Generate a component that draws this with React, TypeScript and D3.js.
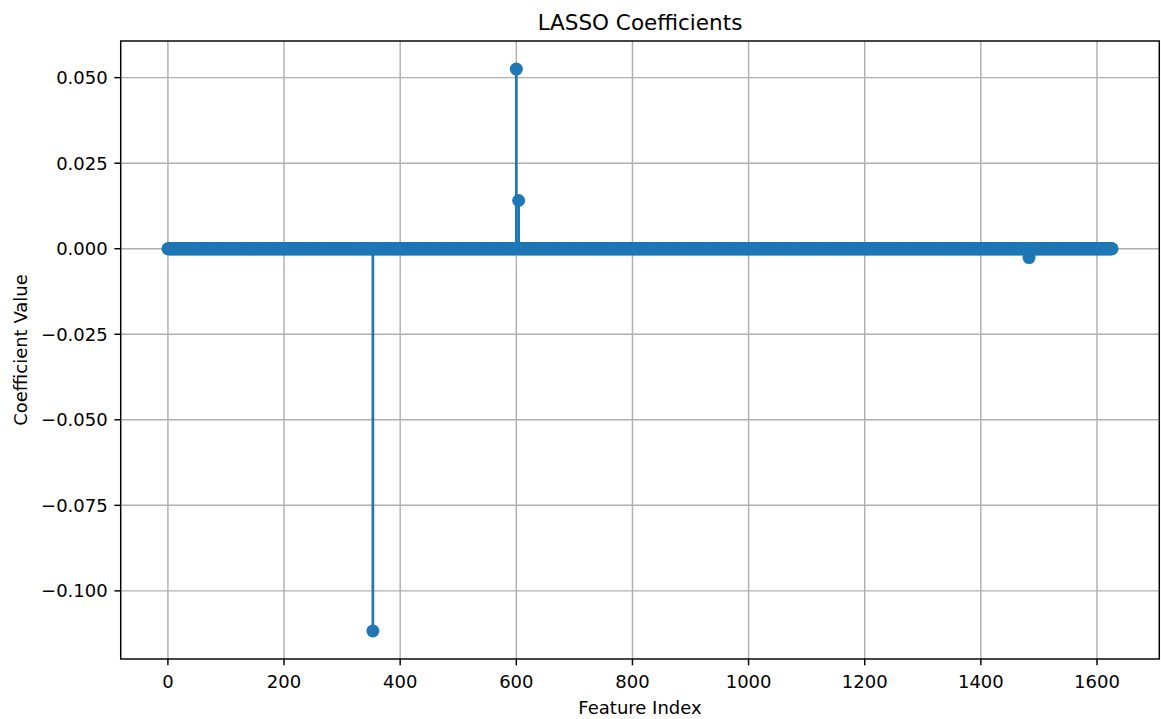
import React from "react";
import * as d3 from "d3";

// number of features in the model (indices 0 .. featureCount-1)
const featureCount = 1627;
// coefficients that LASSO kept non-zero; all the others are 0
const nonZeroIndex = [353, 600, 604, 1483];
const nonZeroValue = [-0.1117, 0.0525, 0.0141, -0.0026];
const xTicks = [0, 200, 400, 600, 800, 1000, 1200, 1400, 1600];
const yTicks = [0.05, 0.025, 0, -0.025, -0.05, -0.075, -0.1];

const coefficients: number[] = new Array(featureCount).fill(0);
nonZeroIndex.forEach((idx, i) => {
  coefficients[idx] = nonZeroValue[i];
});

const width = 1161;
const height = 719;
const margin = { top: 41, right: 1.7, bottom: 60, left: 120.7 };
const blue = "#1f77b4";
const font = "'DejaVu Sans', sans-serif";

const pad = (lo: number, hi: number) => {
  const m = (hi - lo) * 0.05;
  return [lo - m, hi + m];
};

const App = () => {
  const innerWidth = width - margin.left - margin.right;
  const innerHeight = height - margin.top - margin.bottom;

  const xScale = d3
    .scaleLinear()
    .domain(pad(0, featureCount - 1))
    .range([0, innerWidth]);

  const [yMin, yMax] = d3.extent(coefficients) as [number, number];
  const yScale = d3
    .scaleLinear()
    .domain(pad(yMin, yMax))
    .range([innerHeight, 0]);

  const fmt = d3.format(".3f");
  const tickText = (v: number) => fmt(v).replace("-", "\u2212");

  return (
    <div style={{ position: "absolute", left: 0, top: 0 }}>
      <svg width={width} height={height} style={{ display: "block", background: "#fff" }}>
        <text
          x={margin.left + innerWidth / 2}
          y={30}
          textAnchor="middle"
          fontFamily={font}
          fontSize={21.5}
          fill="#000"
        >
          LASSO Coefficients
        </text>
        <g transform={`translate(${margin.left},${margin.top})`}>
          {
            // Grid
            xTicks.map((t) => (
              <line
                key={"gx" + t}
                x1={xScale(t)}
                x2={xScale(t)}
                y1={0}
                y2={innerHeight}
                stroke="#b0b0b0"
                strokeWidth={1.45}
              />
            ))
          }
          {yTicks.map((t) => (
            <line
              key={"gy" + t}
              x1={0}
              x2={innerWidth}
              y1={yScale(t)}
              y2={yScale(t)}
              stroke="#b0b0b0"
              strokeWidth={1.45}
            />
          ))}
          {
            // Stems
            coefficients.map((v, i) =>
              v !== 0 ? (
                <line
                  key={"s" + i}
                  x1={xScale(i)}
                  x2={xScale(i)}
                  y1={yScale(0)}
                  y2={yScale(v)}
                  stroke={blue}
                  strokeWidth={2.7}
                />
              ) : null
            )
          }
          {
            // Markers
            coefficients.map((v, i) => (
              <circle key={"m" + i} cx={xScale(i)} cy={yScale(v)} r={6.5} fill={blue} />
            ))
          }
          <rect
            x={0}
            y={0}
            width={innerWidth}
            height={innerHeight}
            fill="none"
            stroke="#000"
            strokeWidth={1.45}
          />
          {
            // X ticks
            xTicks.map((t) => (
              <g key={"tx" + t} transform={`translate(${xScale(t)},${innerHeight})`}>
                <line y2={6.3} stroke="#000" strokeWidth={1.45} />
                <text y={29} textAnchor="middle" fontFamily={font} fontSize={18} fill="#000">
                  {t}
                </text>
              </g>
            ))
          }
          {
            // Y ticks
            yTicks.map((t) => (
              <g key={"ty" + t} transform={`translate(0,${yScale(t)})`}>
                <line x2={-6.3} stroke="#000" strokeWidth={1.45} />
                <text
                  x={-13}
                  dy="0.36em"
                  textAnchor="end"
                  fontFamily={font}
                  fontSize={18}
                  fill="#000"
                >
                  {tickText(t)}
                </text>
              </g>
            ))
          }
        </g>
        <text
          x={margin.left + innerWidth / 2}
          y={714}
          textAnchor="middle"
          fontFamily={font}
          fontSize={18}
          fill="#000"
        >
          Feature Index
        </text>
        <text
          transform={`translate(27,${margin.top + innerHeight / 2}) rotate(-90)`}
          textAnchor="middle"
          fontFamily={font}
          fontSize={18}
          fill="#000"
        >
          Coefficient Value
        </text>
      </svg>
    </div>
  );
};

export default App;
